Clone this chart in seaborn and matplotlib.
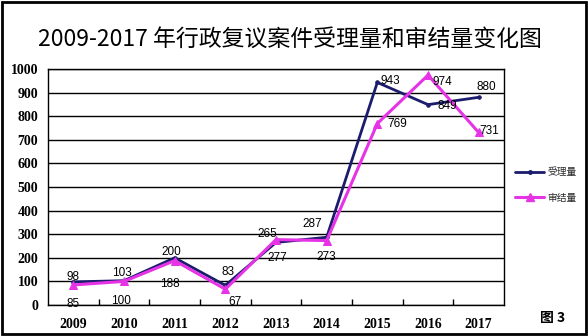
import matplotlib
matplotlib.use("Agg")
import matplotlib.pyplot as plt
import seaborn as sns
import pandas as pd
from matplotlib.patches import Rectangle
from matplotlib.lines import Line2D
from matplotlib.ticker import FixedLocator

years = ["2009", "2010", "2011", "2012", "2013", "2014", "2015", "2016", "2017"]
accepted = [98, 103, 200, 83, 265, 287, 943, 849, 880]      # 受理量
concluded = [85, 100, 188, 67, 277, 273, 769, 974, 731]     # 审结量
series_names = ["受理量", "审结量"]
yticks = [0, 100, 200, 300, 400, 500, 600, 700, 800, 900, 1000]

# label offsets in pixels (dx, dy) for each series
acc_offsets = [(0, 5), (-2, 8), (-3, 6), (3, 13), (-9, 8), (-14, 13), (13, 1), (19, -1), (8, 10)]
con_offsets = [(0, -19), (-3, -20), (-5, -23), (10, -13), (1, -18), (0, -16), (20, 0), (14, -7), (11, 1)]

df = pd.DataFrame({
    "年份": years * 2,
    "数量": accepted + concluded,
    "类型": [series_names[0]] * len(years) + [series_names[1]] * len(years),
})

sns.set_theme(style="white")
plt.rcParams["font.family"] = ["Noto Sans CJK SC", "DejaVu Sans"]

navy = "#1c1c6e"
magenta = "#e633e6"

fig = plt.figure(figsize=(5.88, 3.36), dpi=100)
ax = fig.add_axes([48 / 588, 1 - 305 / 336, 456 / 588, 236 / 336])

sns.lineplot(data=df[df["类型"] == series_names[0]], x="年份", y="数量", ax=ax,
             color=navy, linewidth=2, marker="o", markersize=2.5,
             markeredgecolor=navy, legend=False)
sns.lineplot(data=df[df["类型"] == series_names[1]], x="年份", y="数量", ax=ax,
             color=magenta, linewidth=2.2, marker="^", markersize=6,
             markeredgecolor=magenta, legend=False)

ax.set_xlim(-0.5, len(years) - 0.5)
ax.set_ylim(0, 1000)
ax.set_xlabel("")
ax.set_ylabel("")
ax.set_yticks(yticks)
ax.set_yticklabels([str(v) for v in yticks])
ax.yaxis.grid(True, color="black", linewidth=1)
ax.set_axisbelow(True)
for s in ax.spines.values():
    s.set_color("black")
    s.set_linewidth(1)

tick_font = dict(family="Liberation Serif", weight="bold", size=10)
for lbl in ax.get_yticklabels():
    lbl.set_fontproperties(matplotlib.font_manager.FontProperties(**tick_font))
for lbl in ax.get_xticklabels():
    lbl.set_fontproperties(matplotlib.font_manager.FontProperties(**tick_font))
ax.tick_params(axis="y", length=0, pad=7, colors="black")
ax.tick_params(axis="x", which="major", length=0, pad=9, colors="black")
ax.xaxis.set_minor_locator(FixedLocator([i + 0.5 for i in range(len(years) - 1)]))
ax.tick_params(axis="x", which="minor", direction="in", length=4, width=1, color="black", bottom=True)

label_font = dict(family="Liberation Sans", size=8.5, color="black")
for i, (v, off) in enumerate(zip(accepted, acc_offsets)):
    ax.annotate(str(v), (i, v), xytext=off, textcoords="offset pixels",
                ha="center", va="center", **label_font)
for i, (v, off) in enumerate(zip(concluded, con_offsets)):
    ax.annotate(str(v), (i, v), xytext=off, textcoords="offset pixels",
                ha="center", va="center", **label_font)

handles = [
    Line2D([], [], color=navy, linewidth=2, marker="o", markersize=2.5),
    Line2D([], [], color=magenta, linewidth=2.2, marker="^", markersize=6),
]
fig.legend(handles, series_names, loc="center left",
           bbox_to_anchor=(515 / 588, 1 - 185 / 336), frameon=False,
           borderpad=0, borderaxespad=0,
           handlelength=3.0, labelspacing=1.6, handletextpad=0.3,
           prop=dict(family="Noto Sans CJK SC", size=7))

fig.text(290 / 588, 1 - 39 / 336, "2009-2017 年行政复议案件受理量和审结量变化图",
         ha="center", va="center", fontsize=16.5, color="black")
fig.text(553 / 588, 1 - 318 / 336, "图 3", ha="center", va="center",
         fontsize=10, weight="bold", color="black")

fig.patches.append(Rectangle((2 / 588, 2 / 336), 584 / 588, 332 / 336,
                             transform=fig.transFigure, fill=False,
                             edgecolor="black", linewidth=2))

fig.savefig("out.png", dpi=100)
